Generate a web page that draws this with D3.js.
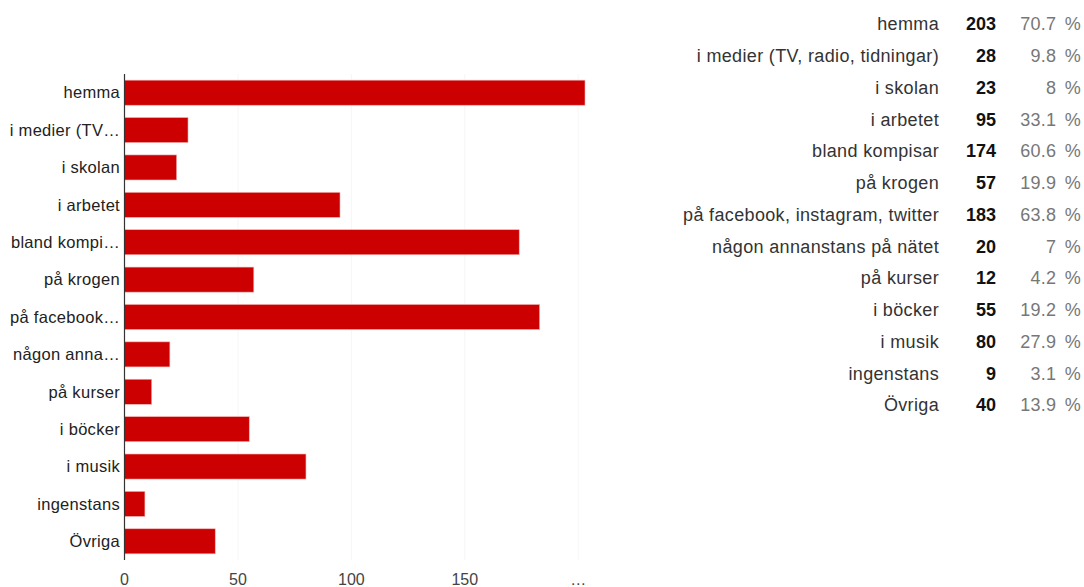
<!DOCTYPE html>
<meta charset="utf-8">
<style>
body { margin: 0; background: #fff; }
svg text { font-family: "Liberation Sans", Arial, sans-serif; }
.bar { fill: #cc0000; stroke: #f2b3b3; stroke-width: 0.6; }
.cat { fill: #222; font-size: 16.5px; letter-spacing: 0.3px; }
.tick-lbl { fill: #444; font-size: 16px; }
.tbl-name { fill: #333; font-size: 18px; letter-spacing: 0.35px; }
.tbl-count { fill: #111; font-size: 18px; font-weight: bold; }
.tbl-pct { fill: #777; font-size: 18px; word-spacing: 3px; letter-spacing: 0.3px; }
</style>
<svg width="1084" height="587"></svg>
<script src="https://d3js.org/d3.v7.min.js"></script>
<script>

var categories = ["hemma", "i medier (TV, radio, tidningar)", "i skolan", "i arbetet",
  "bland kompisar", "på krogen", "på facebook, instagram, twitter",
  "någon annanstans på nätet", "på kurser", "i böcker", "i musik", "ingenstans", "Övriga"];
var shortLabels = ["hemma", "i medier (TV…", "i skolan", "i arbetet", "bland kompi…",
  "på krogen", "på facebook…", "någon anna…", "på kurser", "i böcker", "i musik",
  "ingenstans", "Övriga"];
var counts = [203, 28, 23, 95, 174, 57, 183, 20, 12, 55, 80, 9, 40];
var percents = ["70.7 %", "9.8 %", "8 %", "33.1 %", "60.6 %", "19.9 %", "63.8 %",
  "7 %", "4.2 %", "19.2 %", "27.9 %", "3.1 %", "13.9 %"];
var tickValues = [0, 50, 100, 150, 200];
var tickLabels = ["0", "50", "100", "150", "…"];

var svg = d3.select("svg");

var x = d3.scaleLinear().domain([0, 203]).range([124.5, 585]);
var y = d3.scaleBand().domain(categories).range([74, 560]).paddingInner(0.33).paddingOuter(0.165);

// faint gridlines
svg.append("g").selectAll("line")
  .data(tickValues.slice(1))
  .enter().append("line")
    .attr("x1", function(d) { return x(d); })
    .attr("x2", function(d) { return x(d); })
    .attr("y1", 74).attr("y2", 560)
    .attr("stroke", "#f6f6f6");

svg.append("g").selectAll("rect")
  .data(counts)
  .enter().append("rect")
    .attr("class", "bar")
    .attr("x", x(0))
    .attr("y", function(d, i) { return y(categories[i]); })
    .attr("width", function(d) { return x(d) - x(0); })
    .attr("height", y.bandwidth());

svg.append("line")
  .attr("x1", 124.5).attr("x2", 124.5)
  .attr("y1", 74).attr("y2", 560)
  .attr("stroke", "#333").attr("stroke-width", 1.2);

svg.append("g").selectAll("text")
  .data(shortLabels)
  .enter().append("text")
    .attr("class", "cat")
    .attr("x", 120)
    .attr("y", function(d, i) { return y(categories[i]) + y.bandwidth() / 2; })
    .attr("dy", "0.35em")
    .attr("text-anchor", "end")
    .text(function(d) { return d; });

svg.append("g").selectAll("text")
  .data(tickValues)
  .enter().append("text")
    .attr("class", "tick-lbl")
    .attr("x", function(d) { return x(d); })
    .attr("y", 585)
    .attr("text-anchor", "middle")
    .text(function(d, i) { return tickLabels[i]; });

// summary table on the right
var rowY = d3.scalePoint().domain(categories).range([24, 405]);

var rows = svg.append("g").selectAll("g")
  .data(categories)
  .enter().append("g")
    .attr("transform", function(d) { return "translate(0," + rowY(d) + ")"; });

rows.append("text").attr("class", "tbl-name")
  .attr("x", 939).attr("dy", "0.35em").attr("text-anchor", "end")
  .text(function(d) { return d; });

rows.append("text").attr("class", "tbl-count")
  .attr("x", 996).attr("dy", "0.35em").attr("text-anchor", "end")
  .text(function(d, i) { return counts[i]; });

rows.append("text").attr("class", "tbl-pct")
  .attr("x", 1081).attr("dy", "0.35em").attr("text-anchor", "end")
  .text(function(d, i) { return percents[i]; });

</script>
